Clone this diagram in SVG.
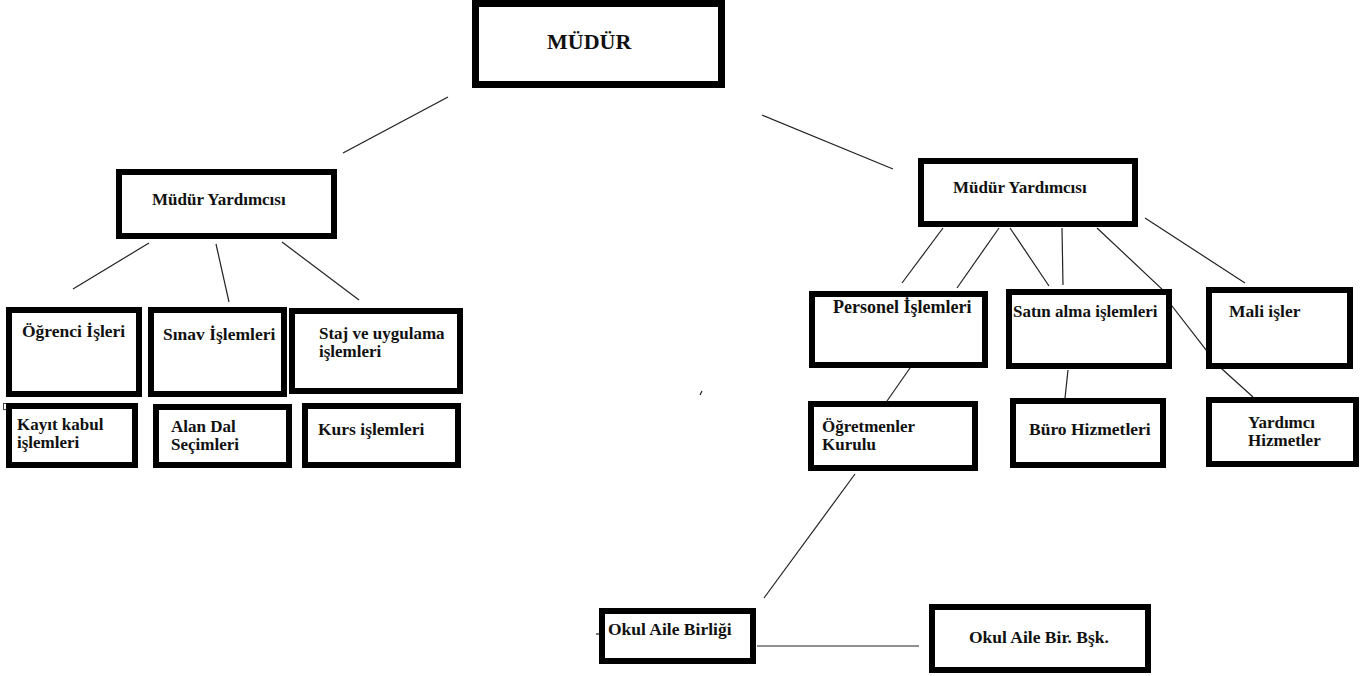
<svg xmlns="http://www.w3.org/2000/svg" width="1364" height="676" viewBox="0 0 1364 676">
<style>
.box{fill:#fff;stroke:#000;stroke-width:6}
.t{font-family:"Liberation Serif","Times New Roman",serif;font-weight:bold;font-size:17.5px;fill:#111}
.s{font-size:17px}
.c line,.c path{stroke:#222;stroke-width:1.2;fill:none}
</style>
<rect width="1364" height="676" fill="#fff"/>
<g class="c" id="connectors">
<line x1="448" y1="97" x2="343" y2="153"/>
<line x1="762" y1="115" x2="893" y2="169"/>
<line x1="149" y1="243" x2="73" y2="289"/>
<line x1="216" y1="244" x2="229" y2="302"/>
<line x1="282" y1="242" x2="359" y2="300"/>
<line x1="943" y1="228" x2="902" y2="283"/>
<line x1="999" y1="228" x2="957" y2="288"/>
<line x1="1010" y1="228" x2="1049" y2="286"/>
<line x1="1062" y1="228" x2="1063" y2="285"/>
<path d="M1097,228 L1163,290 L1172,306 L1207,351 L1222,369 L1253,397"/>
<line x1="1145" y1="218" x2="1245" y2="283"/>
<line x1="910" y1="368" x2="887" y2="401"/>
<line x1="1068" y1="370" x2="1065" y2="398"/>
<line x1="855" y1="474" x2="764" y2="598"/>
<line x1="757" y1="646" x2="919" y2="646"/>
<line x1="596" y1="634" x2="600" y2="634"/>
<line x1="700" y1="395" x2="702" y2="391"/>
<rect x="3.5" y="403.5" width="8" height="6" fill="none" stroke="#444" stroke-width="1"/>
</g>
<g id="mudur"><rect class="box" x="475.5" y="3.5" width="246" height="81" style="stroke-width:7"/><text class="t" x="547" y="49" style="font-size:22px">MÜDÜR</text></g>
<g id="my-left"><rect class="box" x="119" y="172" width="215" height="64"/><text class="t s" x="152" y="205">Müdür Yardımcısı</text></g>
<g id="ogrenci"><rect class="box" x="9" y="310" width="130" height="84"/><text class="t" x="22" y="337">Öğrenci İşleri</text></g>
<g id="sinav"><rect class="box" x="151" y="310" width="133" height="84"/><text class="t" x="163" y="340">Sınav İşlemleri</text></g>
<g id="staj"><rect class="box" x="292" y="311" width="168" height="80"/><text class="t s" x="319" y="339">Staj ve uygulama</text><text class="t s" x="319" y="357">işlemleri</text></g>
<g id="kayit"><rect class="box" x="9" y="406" width="126" height="59"/><text class="t s" x="17" y="430">Kayıt kabul</text><text class="t s" x="17" y="448">işlemleri</text></g>
<g id="alandal"><rect class="box" x="156" y="407" width="133" height="58"/><text class="t s" x="171" y="432">Alan Dal</text><text class="t s" x="171" y="450">Seçimleri</text></g>
<g id="kurs"><rect class="box" x="305" y="406" width="153" height="59"/><text class="t" x="318" y="435">Kurs işlemleri</text></g>
<g id="my-right"><rect class="box" x="921" y="161" width="214" height="63"/><text class="t s" x="953" y="193">Müdür Yardımcısı</text></g>
<g id="personel"><rect class="box" x="812" y="294" width="173" height="71"/><text class="t" x="833" y="313" style="font-size:18px">Personel İşlemleri</text></g>
<g id="satin"><rect class="box" x="1009" y="292" width="160" height="74"/><text class="t s" x="1013" y="317">Satın alma işlemleri</text></g>
<g id="mali"><rect class="box" x="1209" y="290" width="141" height="76"/><text class="t" x="1229" y="317">Mali işler</text></g>
<g id="ogretmenler"><rect class="box" x="811" y="404" width="164" height="64"/><text class="t s" x="822" y="432">Öğretmenler</text><text class="t s" x="822" y="450">Kurulu</text></g>
<g id="buro"><rect class="box" x="1013" y="401" width="150" height="64"/><text class="t" x="1029" y="435">Büro Hizmetleri</text></g>
<g id="yardimci"><rect class="box" x="1209" y="400" width="147" height="64"/><text class="t s" x="1248" y="428">Yardımcı</text><text class="t s" x="1248" y="446">Hizmetler</text></g>
<g id="okul-aile"><rect class="box" x="602" y="611" width="151" height="50"/><text class="t" x="608" y="635">Okul Aile Birliği</text></g>
<g id="okul-aile-bsk"><rect class="box" x="932" y="607" width="216" height="63"/><text class="t" x="969" y="643">Okul Aile Bir. Bşk.</text></g>
</svg>
